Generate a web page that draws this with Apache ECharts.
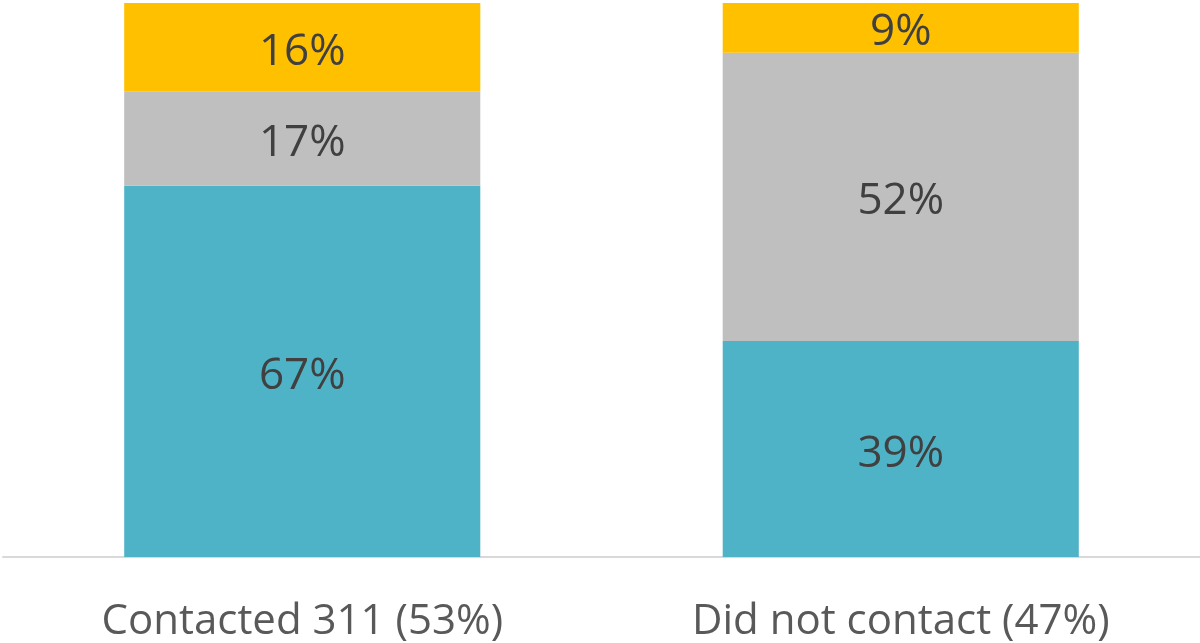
<!DOCTYPE html>
<html>
<head>
<meta charset="utf-8">
<script src="https://cdn.jsdelivr.net/npm/echarts@6/dist/echarts.min.js"></script>
<style>
  html, body { margin: 0; padding: 0; background: #fff; }
  #chart { width: 1200px; height: 643px; }
</style>
</head>
<body>
<div id="chart"></div>
<script>
// categories and stacked shares (percent)
const categories = ['Contacted 311 (53%)', 'Did not contact (47%)']
const tealValues = [67, 39]
const grayValues = [17, 52]
const yellowValues = [16, 9]

const labelStyle = {
  show: true,
  position: 'inside',
  formatter: '{c}%',
  fontFamily: 'Open Sans',
  fontSize: 44,
  color: '#404040',
  offset: [0, 5]
}

function barSeries (name, data, color) {
  return {
    name: name,
    type: 'bar',
    stack: 'total',
    barWidth: '59.5%',
    data: data,
    itemStyle: { color: color },
    label: labelStyle
  }
}

const chart = echarts.init(document.getElementById('chart'))
chart.setOption({
  animation: false,
  grid: { left: 3, right: 0, top: 3, bottom: 86 },
  xAxis: {
    type: 'category',
    data: categories,
    axisTick: { show: false },
    axisLine: { lineStyle: { color: '#d9d9d9', width: 2 } },
    axisLabel: {
      fontFamily: 'Open Sans',
      fontSize: 42,
      color: '#595959',
      margin: 44
    }
  },
  yAxis: {
    type: 'value',
    min: 0,
    max: 100,
    show: false,
    splitLine: { show: false }
  },
  series: [
    barSeries('teal', tealValues, '#4fb3c8'),
    barSeries('gray', grayValues, '#bfbfbf'),
    barSeries('yellow', yellowValues, '#ffc000')
  ]
})
</script>
</body>
</html>
